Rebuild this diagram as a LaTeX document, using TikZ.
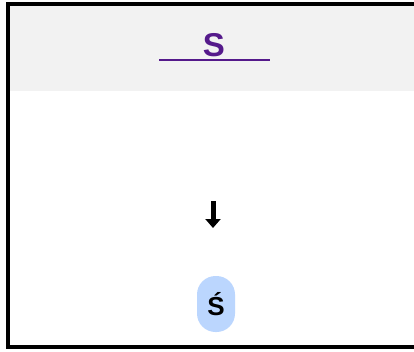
\documentclass[tikz,border=0pt]{standalone}
\usepackage{fontspec}
\setmainfont{Liberation Sans}
\usetikzlibrary{arrows.meta}
\definecolor{bandgray}{HTML}{F2F2F2}
\definecolor{linkpurple}{HTML}{551A8B}
\definecolor{nodeblue}{HTML}{BBD6FE}
\tikzset{
  frameline/.style={line width=4pt,black},
  titletext/.style={text=linkpurple,font=\bfseries\fontsize{33}{38}\selectfont,inner sep=0pt},
  bubble/.style={rectangle,rounded corners=18.5pt,fill=nodeblue,minimum width=38pt,minimum height=56pt,inner sep=0pt,font=\bfseries\fontsize{26}{30}\selectfont},
  downarrow/.style={line width=5pt,-{Triangle[width=15pt,length=9pt]}}
}
\begin{document}
\begin{tikzpicture}[x=1pt,y=-1pt]
\useasboundingbox (0,0) rectangle (414,351);
\fill[white] (0,0) rectangle (414,351);
\fill[bandgray] (10,6) rectangle (414,90.5);
\draw[frameline] (414,4) -- (8,4) -- (8,347) -- (414,347);
\node[titletext] (title) at (214,45) {S};
\coordinate (ulL) at (159,60);
\coordinate (ulR) at (270,60);
\draw[linkpurple,line width=2.2pt] (ulL) -- (ulR);
\coordinate (arrA) at (213,201);
\coordinate (arrB) at (213,228);
\draw[downarrow] (arrA) -- (arrB);
\node[bubble] (s) at (216,304) {Ś};
\end{tikzpicture}
\end{document}
